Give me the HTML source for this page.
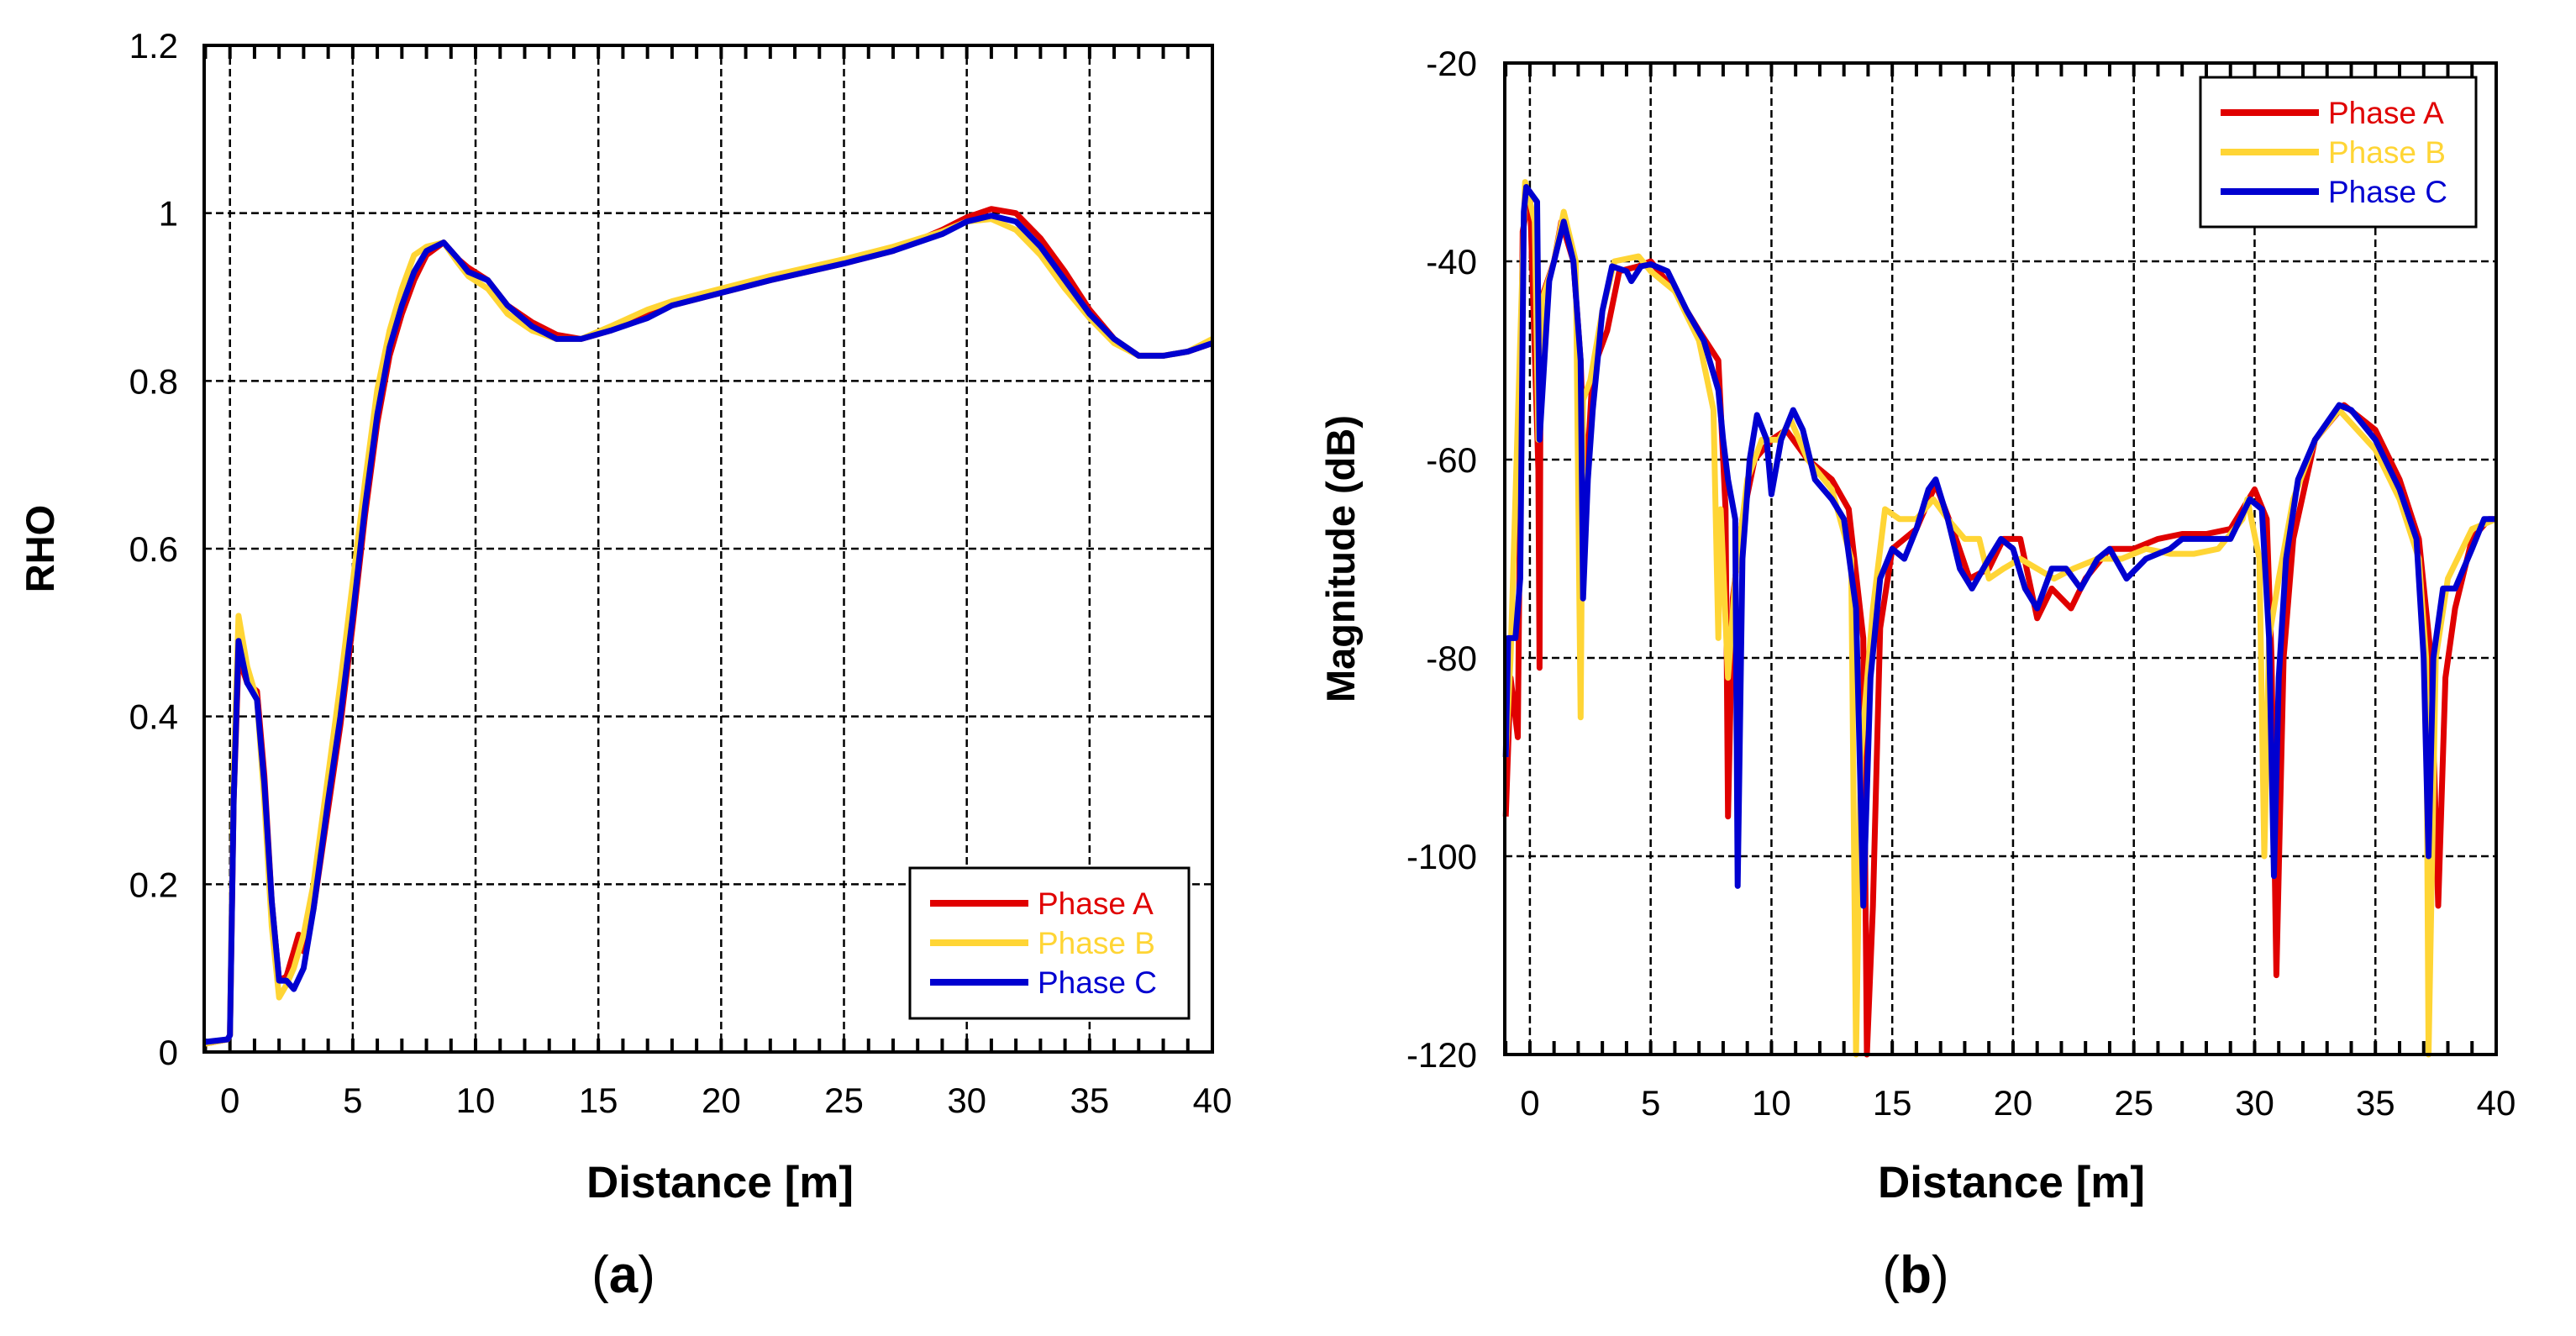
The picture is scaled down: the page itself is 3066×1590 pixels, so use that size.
<!DOCTYPE html>
<html><head><meta charset="utf-8"><style>
body{margin:0;background:#fff;width:3066px;height:1590px;overflow:hidden}
svg{display:block}
text{font-family:"Liberation Sans",sans-serif}
</style></head><body>
<svg id="s" width="3066" height="1590"></svg>
<script>
// ---- Chart (a) RHO data ----
const rhoAx=[-1,-0.1,0,0.15,0.35,0.7,1.1,1.4,1.7,2.0,2.3,2.6,2.8,3.0,3.4,4.0,4.5,5.0,5.5,6.0,6.5,7.0,7.5,8.0,8.7,9.3,9.7,10.5,11.3,12.3,13.3,14.3,15.5,17,18,20,22,25,27,29,30,31,32,33,34,35,36,37,38,39,40];
const rhoA=[0.01,0.015,0.02,0.3,0.47,0.44,0.43,0.33,0.18,0.085,0.09,0.12,0.14,0.12,0.17,0.29,0.39,0.51,0.64,0.75,0.83,0.88,0.92,0.95,0.965,0.945,0.935,0.92,0.89,0.87,0.855,0.85,0.86,0.88,0.89,0.905,0.92,0.94,0.955,0.98,0.995,1.005,1.0,0.97,0.93,0.885,0.85,0.83,0.83,0.835,0.845];
const rhoBx=[-1,-0.1,0,0.15,0.35,0.7,1.1,1.4,1.7,2.0,2.3,2.6,3.0,3.4,4.0,4.5,5.0,5.5,6.0,6.5,7.0,7.5,8.0,8.7,9.3,9.7,10.5,11.3,12.3,13.3,14.3,15.5,17,18,20,22,25,27,29,30,31,32,33,34,35,36,37,38,39,40];
const rhoB=[0.01,0.015,0.02,0.33,0.52,0.46,0.42,0.3,0.15,0.065,0.08,0.1,0.14,0.2,0.33,0.44,0.56,0.68,0.79,0.86,0.91,0.95,0.96,0.965,0.94,0.925,0.91,0.88,0.86,0.85,0.85,0.865,0.885,0.895,0.91,0.925,0.945,0.96,0.978,0.99,0.993,0.98,0.95,0.91,0.875,0.845,0.83,0.83,0.835,0.85];
const rhoCx=[-1,-0.1,0,0.15,0.35,0.7,1.1,1.4,1.7,2.0,2.3,2.6,3.0,3.4,4.0,4.5,5.0,5.5,6.0,6.5,7.0,7.5,8.0,8.7,9.3,9.7,10.5,11.3,12.3,13.3,14.3,15.5,17,18,20,22,25,27,29,30,31,32,33,34,35,36,37,38,39,40];
const rhoC=[0.012,0.015,0.02,0.3,0.49,0.44,0.42,0.32,0.18,0.085,0.085,0.075,0.1,0.17,0.3,0.4,0.52,0.65,0.76,0.84,0.89,0.93,0.955,0.965,0.945,0.93,0.92,0.89,0.865,0.85,0.85,0.86,0.875,0.89,0.905,0.92,0.94,0.955,0.975,0.99,0.997,0.99,0.96,0.92,0.88,0.85,0.83,0.83,0.835,0.845];
const rhoYTicks=[0,0.2,0.4,0.6,0.8,1,1.2];
const rhoYLabels=["0","0.2","0.4","0.6","0.8","1","1.2"];
// ---- Chart (b) Magnitude data ----
const magAx=[-1,-0.8,-0.5,-0.3,0,0.35,0.4,0.45,1,1.3,1.8,2.1,2.3,2.6,3.2,3.7,4.5,5,6,7,7.8,8.1,8.2,8.4,8.8,9.3,10,10.6,11.5,12.5,13.2,13.8,13.95,14.2,14.5,15,16,16.8,17.5,18.2,19,19.6,20.3,21,21.6,22.4,23,24,25,26,27,28,29,30,30.5,30.7,30.9,31.2,31.6,32.5,33.7,35,36,36.8,37.3,37.6,37.9,38.3,39,39.7,40];
const magA=[-96,-82,-88,-37,-33,-61,-81,-44,-40,-36,-40,-50,-64,-51,-47,-41,-40.5,-40,-43,-47,-50,-65,-96,-74,-66,-60,-58,-57,-60,-62,-65,-78,-120,-105,-77,-69,-67,-62.5,-67,-72,-71,-68,-68,-76,-73,-75,-72,-69,-69,-68,-67.5,-67.5,-67,-63,-66,-80,-112,-80,-68,-58,-54.5,-57,-62,-68,-80,-105,-82,-75,-68,-66,-66];
const magBx=[-1,-0.8,-0.3,-0.2,0.2,0.35,0.5,1,1.4,1.9,2.1,2.2,2.5,3,3.5,4.5,5,6,7,7.6,7.8,7.9,8.2,8.5,9,9.6,10.3,10.8,11.5,12.5,13.3,13.5,13.7,14.2,14.7,15.3,16,16.7,17.3,18,18.6,19,19.6,20.3,21,21.7,22.5,23.5,24.5,25.5,26.5,27.5,28.5,29.5,29.7,30.2,30.4,30.6,31,31.6,32.5,33.5,35,36,36.8,37.1,37.2,37.5,38,39,40];
const magB=[-90,-80,-40,-32,-36,-58,-44,-40,-35,-40,-86,-54,-52,-45,-40,-39.5,-41,-43,-48,-55,-78,-65,-82,-72,-62,-58,-58,-56,-60,-63,-70,-120,-90,-75,-65,-66,-66,-64,-66,-68,-68,-72,-71,-70,-71,-72,-71,-70,-70,-69,-69.5,-69.5,-69,-66,-64,-70,-100,-78,-72,-64,-58,-55,-59,-64,-70,-80,-120,-80,-72,-67,-66];
const magCx=[-1,-0.9,-0.6,-0.4,-0.25,-0.15,0.3,0.4,0.8,1.2,1.4,1.8,2.1,2.2,2.4,2.6,3.0,3.4,4.0,4.2,4.6,5,5.7,6.5,7.2,7.8,8.0,8.2,8.5,8.6,8.8,9.1,9.4,9.8,10.0,10.4,10.9,11.3,11.8,12.5,13.0,13.5,13.8,14.1,14.5,15,15.5,16,16.5,16.8,17.3,17.8,18.3,19,19.5,20,20.5,21,21.6,22.2,22.8,23.5,24,24.7,25.5,26.5,27,28,29,29.8,30.3,30.6,30.8,31,31.3,31.8,32.5,33.5,34,35,36,36.7,37.0,37.2,37.4,37.8,38.3,39,39.5,40];
const magC=[-90,-78,-78,-72,-35,-32.5,-34,-58,-42,-38,-36,-40,-50,-74,-62,-55,-45,-40.5,-41,-42,-40.5,-40.3,-41,-45,-48,-53,-58,-62,-66,-103,-70,-60,-55.5,-58,-63.5,-58,-55,-57,-62,-64,-66,-75,-105,-82,-72,-69,-70,-67,-63,-62,-66,-71,-73,-70,-68,-69,-73,-75,-71,-71,-73,-70,-69,-72,-70,-69,-68,-68,-68,-64,-65,-78,-102,-82,-70,-62,-58,-54.5,-55,-58,-63,-68,-80,-100,-80,-73,-73,-69,-66,-66];
const magYTicks=[-120,-100,-80,-60,-40,-20];
const magYLabels=["-120","-100","-80","-60","-40","-20"];
const xTicks=[0,5,10,15,20,25,30,35,40];
const xLabels=["0","5","10","15","20","25","30","35","40"];

const NS="http://www.w3.org/2000/svg";
const svg=document.getElementById('s');
function mk(tag,attrs,parent){const e=document.createElementNS(NS,tag);for(const k in attrs)e.setAttribute(k,attrs[k]);(parent||svg).appendChild(e);return e;}
const COL={A:"#e00000",B:"#ffd535",C:"#0000d0"};

function chart(cfg){
  const g=mk('g',{});
  
  
  const L=cfg.L,R=cfg.R,T=cfg.T,B=cfg.B;
  const X=v=>L+(v-cfg.xmin)/(40-cfg.xmin)*(R-L);
  const Y=v=>B-(v-cfg.ymin)/(cfg.ymax-cfg.ymin)*(B-T);
  xTicks.forEach((t,i)=>{
    const l=mk('line',{x1:X(t),x2:X(t),y1:T,y2:B,stroke:'#000','stroke-width':2.5,'stroke-dasharray':'9,5'},g);
    
    
    const tx=mk('text',{x:X(t),y:B+72,'font-size':42,'text-anchor':'middle'},g);
    tx.textContent=xLabels[i];
    
    
  });
  cfg.yt.forEach((t,i)=>{
    const l=mk('line',{x1:L,x2:R,y1:Y(t),y2:Y(t),stroke:'#000','stroke-width':2.5,'stroke-dasharray':'9,5'},g);
    
    
    const tx=mk('text',{x:cfg.ylx,y:Y(t)+15,'font-size':42,'text-anchor':'end'},g);
    tx.textContent=cfg.yl[i];
    
    
  });
  for(let t=-1;t<=40;t++){
    mk('line',{x1:X(t),x2:X(t),y1:B,y2:B-16,stroke:'#000','stroke-width':4},g);
    mk('line',{x1:X(t),x2:X(t),y1:T,y2:T+16,stroke:'#000','stroke-width':4},g);
  }
  cfg.series.forEach(s=>{
    const d=s.x.map((v,i)=>(i?'L':'M')+X(v).toFixed(1)+','+Y(Math.max(cfg.ymin,s.y[i])).toFixed(1)).join('');
    const p=mk('path',{d:d,fill:'none',stroke:COL[s.k],'stroke-width':7,'stroke-linejoin':'round'},g);
    
    
  });
  const fr=mk('rect',{x:L,y:T,width:R-L,height:B-T,fill:'none',stroke:'#000','stroke-width':4},g);
  
  
  const lg=mk('g',{},g);
  
  
  mk('rect',{x:cfg.lg[0],y:cfg.lg[1],width:cfg.lg[2],height:cfg.lg[3],fill:'#fff',stroke:'#000','stroke-width':3},lg);
  ['A','B','C'].forEach((k,i)=>{
    const yy=cfg.lg[1]+42+i*47;
    mk('line',{x1:cfg.lg[0]+24,x2:cfg.lg[0]+141,y1:yy,y2:yy,stroke:COL[k],'stroke-width':8},lg);
    const tx=mk('text',{x:cfg.lg[0]+152,y:yy+13,'font-size':37,fill:COL[k]},lg);
    tx.textContent='Phase '+k;
    
    
  });
  const xt=mk('text',{x:cfg.xtx,y:1425,'font-size':53,'font-weight':'bold','text-anchor':'middle'},g);
  xt.textContent='Distance [m]';
  
  
  const yt=mk('text',{x:0,y:0,'font-size':47,'font-weight':'bold','text-anchor':'middle',transform:`translate(${cfg.ytx},${(T+B)/2}) rotate(-90)`},g);
  yt.textContent=cfg.ytitle;
  
  
  const cap=mk('text',{x:cfg.capx,y:1538,'font-size':62,'text-anchor':'middle','font-family':'Liberation Serif, serif'},g);
  cap.innerHTML='(<tspan font-weight="bold">'+cfg.cap+'</tspan>)';
  
  
}
chart({name:'rho-chart',L:243,R:1443,T:54,B:1252,xmin:-1.05,ymin:0,ymax:1.2,yt:rhoYTicks,yl:rhoYLabels,ylx:212,
  series:[{k:'A',x:rhoAx,y:rhoA},{k:'B',x:rhoBx,y:rhoB},{k:'C',x:rhoCx,y:rhoC}],
  lg:[1083,1033,332,179],ytitle:'RHO',ytx:64,xtx:857,capx:742,cap:'a'});
chart({name:'magnitude-chart',L:1791,R:2971,T:75,B:1255,xmin:-1.04,ymin:-120,ymax:-20,yt:magYTicks,yl:magYLabels,ylx:1758,
  series:[{k:'A',x:magAx,y:magA},{k:'B',x:magBx,y:magB},{k:'C',x:magCx,y:magC}],
  lg:[2619,92,328,178],ytitle:'Magnitude (dB)',ytx:1612,xtx:2394,capx:2280,cap:'b'});
</script>
</body></html>
